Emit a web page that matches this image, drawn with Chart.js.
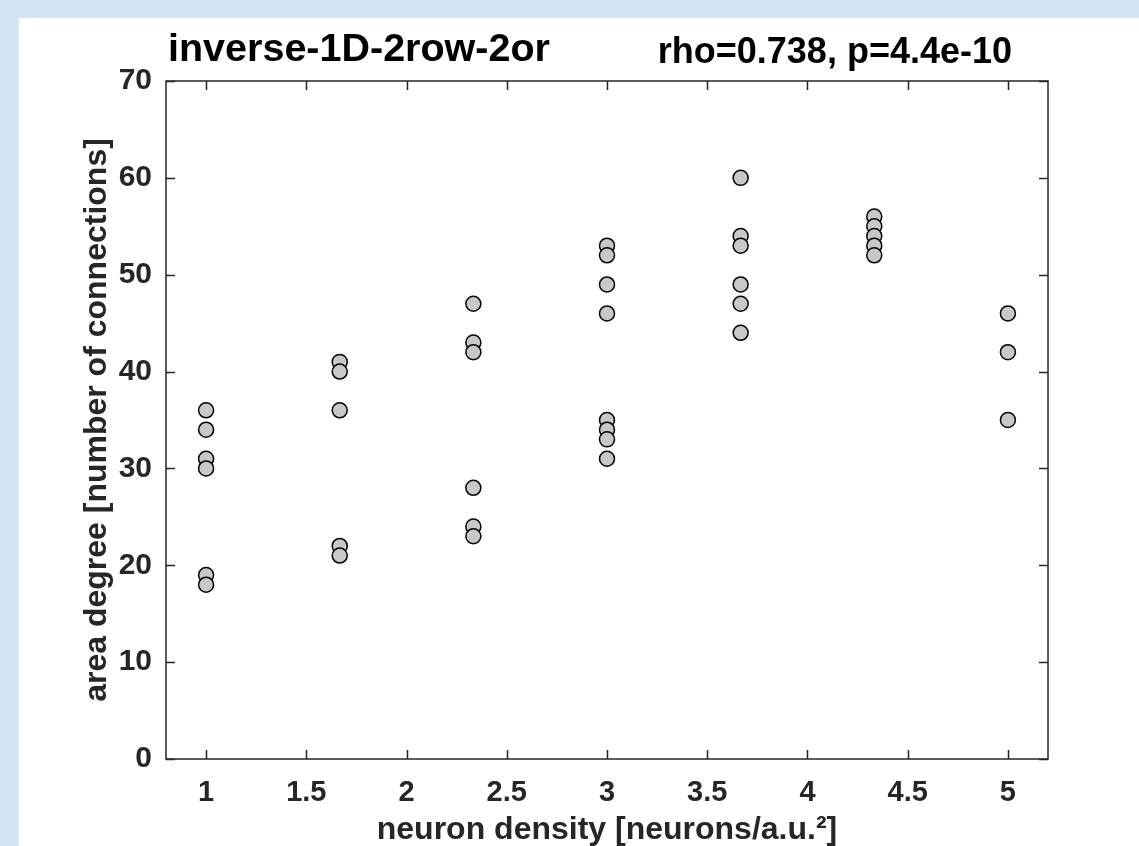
<!DOCTYPE html>
<html>
<head>
<meta charset="utf-8">
<script src="https://cdn.jsdelivr.net/npm/chart.js@4"></script>
<style>
  html, body { margin: 0; padding: 0; background: #d5e5f1; }
  canvas { display: block; }
</style>
</head>
<body>
<canvas id="scatter" width="1139" height="846"></canvas>
<script>
const densities = [1, 1.6667, 2.3333, 3, 3.6667, 4.3333, 5];
const degrees = [
  [36, 34, 31, 30, 19, 18],
  [41, 40, 36, 22, 21],
  [47, 43, 42, 28, 24, 23],
  [53, 52, 49, 46, 35, 34, 33, 31],
  [60, 54, 53, 49, 47, 44],
  [56, 55, 54, 53, 52],
  [46, 42, 35],
];
const xTicks = [1, 1.5, 2, 2.5, 3, 3.5, 4, 4.5, 5];
const yTicks = [0, 10, 20, 30, 40, 50, 60, 70];
const titleText = 'inverse-1D-2row-2or';
const statsText = 'rho=0.738, p=4.4e-10';

const FONT = '"Liberation Sans", Arial, Helvetica, sans-serif';
const INK = '#262626';

// flatten columns into scatter points
const points = [];
densities.forEach((d, i) => {
  degrees[i].forEach((v) => points.push({ x: d, y: v }));
});

const matlabFrame = {
  id: 'matlabFrame',
  beforeDraw(chart) {
    const ctx = chart.ctx;
    ctx.save();
    ctx.fillStyle = '#d5e5f1';
    ctx.fillRect(0, 0, chart.width, chart.height);
    ctx.fillStyle = '#ffffff';
    ctx.fillRect(19, 18, chart.width - 19, chart.height - 18);
    ctx.restore();
  },
  beforeDatasetsDraw(chart) {
    const { ctx, chartArea: a, scales } = chart;
    const tl = 9;
    ctx.save();
    ctx.strokeStyle = INK;
    ctx.lineWidth = 1.5;
    ctx.beginPath();
    xTicks.forEach((t) => {
      const px = Math.round(scales.x.getPixelForValue(t)) + 0.5;
      ctx.moveTo(px, a.bottom); ctx.lineTo(px, a.bottom - tl);
      ctx.moveTo(px, a.top); ctx.lineTo(px, a.top + tl);
    });
    yTicks.forEach((t) => {
      const py = Math.round(scales.y.getPixelForValue(t)) + 0.5;
      ctx.moveTo(a.left, py); ctx.lineTo(a.left + tl, py);
      ctx.moveTo(a.right, py); ctx.lineTo(a.right - tl, py);
    });
    ctx.stroke();
    ctx.strokeRect(a.left, a.top, a.right - a.left, a.bottom - a.top);

    // title and stats above the box
    ctx.fillStyle = '#000000';
    ctx.textBaseline = 'alphabetic';
    ctx.textAlign = 'left';
    ctx.font = 'bold 39.5px ' + FONT;
    ctx.fillText(titleText, 168, 61);
    ctx.textAlign = 'right';
    ctx.font = 'bold 36px ' + FONT;
    ctx.fillText(statsText, 1012, 63);
    ctx.restore();
  },
};

new Chart(document.getElementById('scatter'), {
  type: 'scatter',
  data: {
    datasets: [
      {
        data: points,
        backgroundColor: '#c8c8c8',
        borderColor: '#000000',
        borderWidth: 1.5,
        pointRadius: 7.5,
        pointHoverRadius: 7.5,
      },
    ],
  },
  options: {
    responsive: false,
    animation: false,
    layout: { padding: { left: 0, top: 81, right: 91, bottom: 0 } },
    plugins: { legend: { display: false }, tooltip: { enabled: false } },
    scales: {
      x: {
        type: 'linear',
        min: 0.8,
        max: 5.2,
        afterBuildTicks: (s) => { s.ticks = xTicks.map((v) => ({ value: v })); },
        afterFit: (s) => { s.height = 87; },
        grid: { display: false, drawTicks: false },
        border: { display: false },
        ticks: {
          padding: 17,
          color: INK,
          font: { family: FONT, size: 29, weight: 'bold' },
          callback: (v) => String(v),
        },
        title: {
          display: true,
          text: 'neuron density [neurons/a.u.²]',
          color: INK,
          font: { family: FONT, size: 32, weight: 'bold' },
          padding: { top: 0, bottom: -3 },
        },
      },
      y: {
        type: 'linear',
        min: 0,
        max: 70,
        afterBuildTicks: (s) => { s.ticks = yTicks.map((v) => ({ value: v })); },
        afterFit: (s) => { s.width = 166; },
        grid: { display: false, drawTicks: false },
        border: { display: false },
        ticks: {
          padding: 14,
          color: INK,
          font: { family: FONT, size: 30, weight: 'bold' },
        },
        title: {
          display: true,
          text: 'area degree [number of connections]',
          color: INK,
          font: { family: FONT, size: 32, weight: 'bold' },
          padding: { top: 78, bottom: 0 },
        },
      },
    },
  },
  plugins: [matlabFrame],
});
</script>
</body>
</html>
